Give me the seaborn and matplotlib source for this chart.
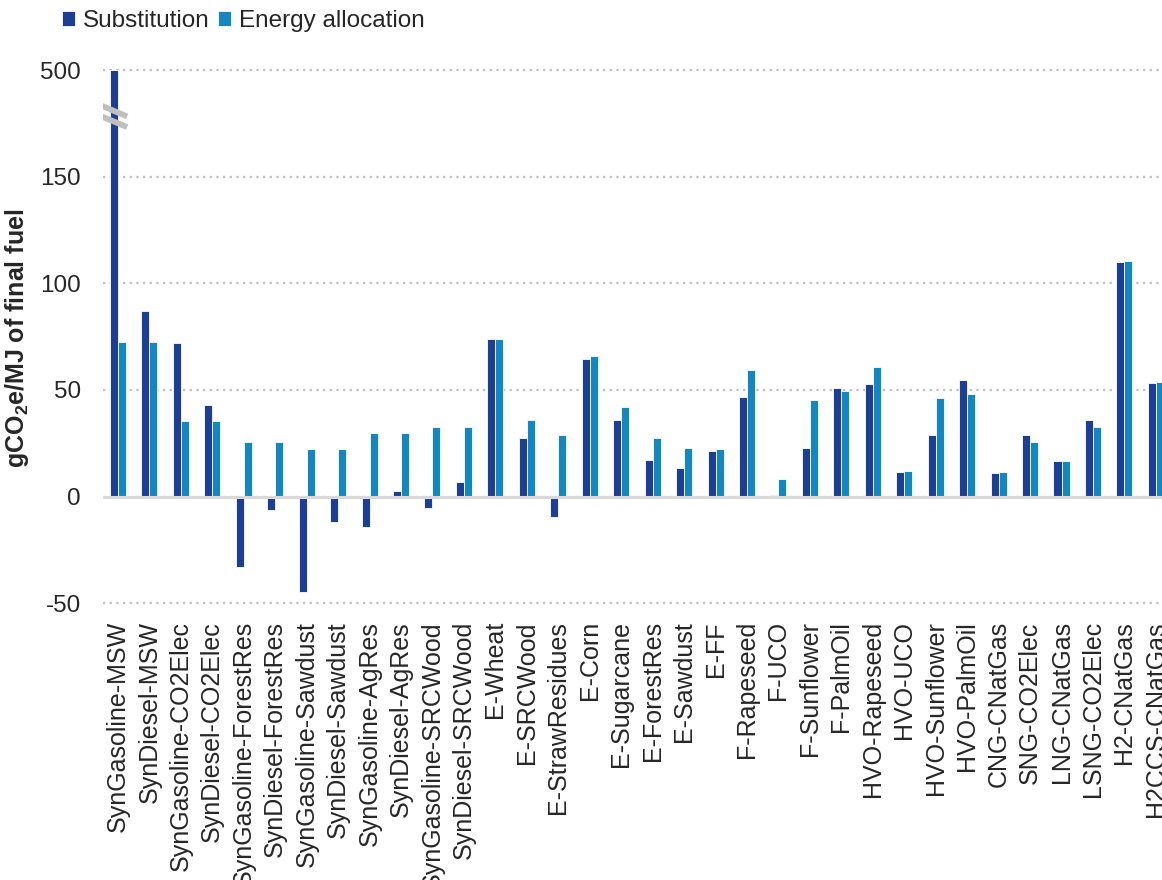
import numpy as np
import pandas as pd
import matplotlib
matplotlib.use('Agg')
import matplotlib.pyplot as plt
import seaborn as sns

# Datos (gCO2e/MJ de combustible final)
pathways = ['SynGasoline-MSW', 'SynDiesel-MSW', 'SynGasoline-CO2Elec', 'SynDiesel-CO2Elec',
            'SynGasoline-ForestRes', 'SynDiesel-ForestRes', 'SynGasoline-Sawdust', 'SynDiesel-Sawdust',
            'SynGasoline-AgRes', 'SynDiesel-AgRes', 'SynGasoline-SRCWood', 'SynDiesel-SRCWood',
            'E-Wheat', 'E-SRCWood', 'E-StrawResidues', 'E-Corn', 'E-Sugarcane', 'E-ForestRes',
            'E-Sawdust', 'E-FF', 'F-Rapeseed', 'F-UCO', 'F-Sunflower', 'F-PalmOil',
            'HVO-Rapeseed', 'HVO-UCO', 'HVO-Sunflower', 'HVO-PalmOil', 'CNG-CNatGas', 'SNG-CO2Elec',
            'LNG-CNatGas', 'LSNG-CO2Elec', 'H2-CNatGas', 'H2CCS-CNatGas']
substitution = [500, 87.1, 72.0, 42.9, -33.0, -6.1, -44.6, -11.9, -14.2, 2.5, -5.4, 6.6,
                73.7, 27.3, -9.7, 64.4, 35.9, 17.3, 13.2, 21.2, 46.9, 0.8, 23.0, 50.7,
                53.0, 11.4, 29.0, 54.6, 10.8, 29.0, 16.6, 35.9, 110.0, 53.4]
energy_alloc = [72.5, 72.5, 35.3, 35.3, 25.4, 25.4, 22.5, 22.5, 30.0, 30.0, 32.5, 32.5,
                73.7, 35.9, 28.8, 65.8, 41.9, 27.3, 23.0, 22.5, 59.2, 8.0, 45.3, 49.3,
                61.0, 12.0, 46.4, 48.3, 11.4, 25.4, 16.6, 32.5, 110.7, 53.9]
series = ['Substitution', 'Energy allocation']
colors = ['#1C3F95', '#1487C0']
y_ticks = [-50, 0, 50, 100, 150, 500]

df = pd.DataFrame({
    'pathway': pathways * 2,
    'method': [series[0]] * len(pathways) + [series[1]] * len(pathways),
    'value': substitution + energy_alloc,
})

sns.set_style('white')
plt.rcParams['font.family'] = ['Liberation Sans', 'DejaVu Sans']
plt.rcParams['mathtext.fontset'] = 'custom'
plt.rcParams['mathtext.rm'] = 'Liberation Sans'
plt.rcParams['mathtext.bf'] = 'Liberation Sans:bold'

fig = plt.figure(figsize=(11.62, 8.8), dpi=100)
# el eje se sale un poco por la derecha, como en el original
ax = fig.add_axes([0.0886, 0.3099, 0.921, 0.6125])

sns.barplot(data=df, x='pathway', y='value', hue='method', order=pathways,
            hue_order=series, palette=colors, width=0.51, errorbar=None,
            edgecolor='white', linewidth=0.6, saturation=1, ax=ax)

# Eje Y cortado: por encima de 150 se comprime (150 -> 500 ocupa lo que 150 -> 200)
def fwd(y):
    y = np.asarray(y, dtype=float)
    return np.where(y > 150, 150 + (y - 150) * 50 / 350, y)

def inv(y):
    y = np.asarray(y, dtype=float)
    return np.where(y > 150, 150 + (y - 150) * 350 / 50, y)

ax.set_yscale('function', functions=(fwd, inv))
ax.set_ylim(-52, 507)
ax.set_yticks(y_ticks)
ax.set_yticklabels([str(t) for t in y_ticks])
ax.set_xlim(-0.477, len(pathways) - 0.45)

ax.set_axisbelow(True)
ax.yaxis.grid(True, linestyle=(0, (1, 2)), color='#BFBFBF', linewidth=1.6)
ax.xaxis.grid(False)
ax.axhline(0, color='#D9D9D9', linewidth=2.2, zorder=1.5)
for s in ax.spines.values():
    s.set_visible(False)

ax.tick_params(axis='y', length=0, pad=16, labelsize=17.5)
ax.tick_params(axis='x', length=0, pad=10, labelsize=18, rotation=90)
ax.set_xlabel('')
ax.set_ylabel(r'gCO$_\mathbf{2}$e/MJ of final fuel', fontsize=18, fontweight='bold')
ax.yaxis.set_label_coords(-0.067, 0.5)

# Marca de corte sobre la primera barra
bx = -0.1275
for yc in (181.0, 176.0):
    ys = inv([yc + 2.6, yc - 2.6])
    ax.plot([bx - 0.42, bx + 0.42], ys, color='#BFBFBF', linewidth=4.2,
            solid_capstyle='butt', zorder=5)

handles, labels = ax.get_legend_handles_labels()
ax.legend(handles, labels, loc='upper left', bbox_to_anchor=(62 / 1162, 1 - 10 / 880),
          bbox_transform=fig.transFigure, ncol=2, frameon=False, fontsize=17.5,
          handlelength=0.55, handleheight=0.55, handletextpad=0.3,
          columnspacing=0.35, borderpad=0, borderaxespad=0)

fig.savefig('out.png', dpi=100)
